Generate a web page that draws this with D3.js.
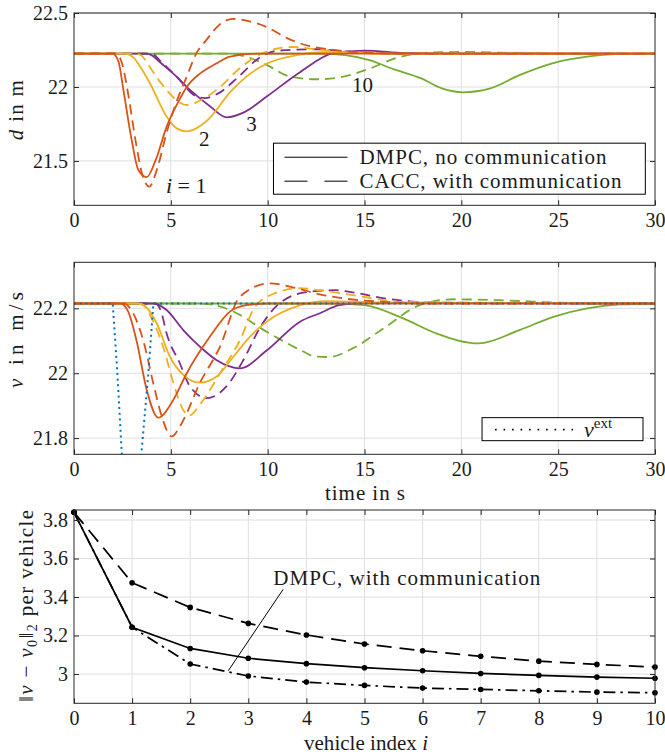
<!DOCTYPE html>
<html>
<head>
<meta charset="utf-8">
<script src="https://cdn.jsdelivr.net/npm/d3@7"></script>
<style>
  body { margin: 0; background: #fff; }
</style>
</head>
<body>
<svg id="chart" width="665" height="755"></svg>
<script>
// ---------- tick values ----------
const timeTicks = [0, 5, 10, 15, 20, 25, 30];
const dTicks = [21.5, 22, 22.5];
const vTicks = [21.8, 22, 22.2];
const normTicks = [3, 3.2, 3.4, 3.6, 3.8];
const vehicleTicks = [0, 1, 2, 3, 4, 5, 6, 7, 8, 9, 10];

// ---------- spacing d [m] over time [s] ----------
const d1Dmpc = [[0,22.225],[2.0,22.225],[2.3,22.17],[2.55,21.98],[2.98,21.64],[3.32,21.44],[3.75,21.39],[4.2,21.5],[4.78,21.73],[5.47,21.92],[5.82,22.0],[6.5,22.09],[7.37,22.16],[8.05,22.205],[9.5,22.225],[30,22.225]];
const d1Cacc = [[0,22.225],[2.2,22.225],[2.5,22.15],[2.8,21.95],[3.2,21.62],[3.5,21.42],[3.89,21.326],[4.3,21.45],[4.78,21.69],[5.21,21.87],[5.82,22.07],[6.33,22.23],[6.85,22.32],[7.5,22.42],[8.22,22.46],[9.0,22.445],[9.95,22.405],[11.0,22.33],[11.67,22.295],[13.4,22.25],[15,22.232],[17,22.225],[30,22.225]];
const d2Dmpc = [[0,22.225],[2.6,22.225],[3.06,22.2],[3.5,22.12],[3.92,22.025],[4.78,21.8],[5.3,21.72],[5.82,21.7],[6.85,21.77],[8.1,21.97],[9.0,22.08],[10.0,22.16],[11.5,22.215],[12.8,22.235],[14.5,22.233],[16.5,22.225],[30,22.225]];
const d2Cacc = [[0,22.225],[3.2,22.225],[3.5,22.21],[3.84,22.15],[4.3,22.06],[4.78,21.98],[5.3,21.91],[5.82,21.878],[6.68,21.92],[7.54,22.0],[8.5,22.12],[9.6,22.22],[10.5,22.26],[11.3,22.27],[12.5,22.255],[14,22.235],[16,22.225],[30,22.225]];
const d3Dmpc = [[0,22.225],[3.7,22.225],[4.0,22.215],[4.5,22.16],[5.13,22.09],[5.99,21.98],[7.02,21.87],[7.88,21.795],[8.8,21.83],[9.95,21.935],[11.67,22.1],[13.4,22.228],[15,22.245],[17,22.23],[19,22.225],[30,22.225]];
const d3Cacc = [[0,22.225],[4.0,22.225],[4.5,22.17],[5.3,22.07],[6.33,21.935],[6.76,21.925],[7.5,21.96],[8.5,22.07],[9.6,22.2],[10.5,22.245],[12.5,22.255],[14,22.24],[17,22.225],[30,22.225]];
const d10Dmpc = [[0,22.225],[12.5,22.225],[14,22.215],[15.3,22.18],[16.5,22.12],[17.9,22.06],[19,21.99],[20.1,21.964],[21.5,21.99],[23.0,22.08],[24.7,22.16],[26.5,22.205],[28,22.222],[30,22.225]];
const d10Cacc = [[0,22.225],[8.0,22.225],[9.0,22.2],[9.95,22.149],[11.15,22.07],[12.5,22.052],[13.5,22.06],[15.3,22.126],[16.5,22.19],[17.7,22.225],[19,22.235],[20.5,22.237],[22,22.232],[25,22.225],[30,22.225]];

// ---------- velocity v [m/s] over time [s] ----------
const vExt = [[0,22.215],[2.0,22.215],[2.24,22.0],[2.46,21.76],[2.95,21.25],[3.49,21.76],[3.84,22.0],[4.1,22.215],[30,22.215]];
const v1Dmpc = [[0,22.215],[2.4,22.215],[2.8,22.19],[3.23,22.1],[3.75,21.95],[4.35,21.863],[5.13,21.918],[5.82,22.0],[7.02,22.113],[8.05,22.19],[8.9,22.21],[10,22.215],[30,22.215]];
const v1Cacc = [[0,22.215],[2.6,22.215],[2.9,22.2],[3.58,22.1],[4.09,21.97],[4.53,21.867],[5.04,21.805],[5.56,21.846],[6.5,21.97],[7.54,22.082],[8.57,22.236],[10.1,22.277],[11.5,22.262],[12.7,22.243],[14,22.23],[16,22.22],[18,22.215],[30,22.215]];
const v2Dmpc = [[0,22.215],[3.3,22.215],[3.7,22.205],[4.27,22.154],[4.96,22.05],[5.64,21.995],[6.5,21.971],[7.37,21.99],[8.22,22.05],[9.09,22.113],[9.95,22.159],[11.7,22.21],[13,22.222],[16,22.218],[30,22.215]];
const v2Cacc = [[0,22.215],[3.3,22.215],[3.6,22.21],[3.92,22.18],[4.61,22.08],[5.13,21.97],[5.64,21.887],[5.9,21.869],[6.68,21.918],[7.54,22.0],[8.57,22.102],[9.3,22.2],[10.3,22.245],[11.67,22.262],[12.7,22.256],[15,22.235],[17,22.22],[30,22.215]];
const v3Dmpc = [[0,22.215],[4.1,22.215],[4.78,22.195],[5.64,22.133],[6.5,22.082],[7.37,22.04],[8.57,22.015],[9.95,22.07],[11.67,22.159],[12.7,22.185],[13.7,22.21],[15,22.217],[30,22.215]];
const v3Cacc = [[0,22.215],[4.2,22.215],[4.5,22.19],[4.78,22.123],[5.47,22.03],[5.99,21.959],[6.85,21.923],[7.88,21.96],[8.74,22.04],[9.6,22.14],[10.6,22.215],[12,22.25],[13.5,22.256],[14.5,22.248],[16.1,22.23],[19,22.217],[30,22.215]];
const v10Dmpc = [[0,22.215],[13.5,22.215],[15,22.21],[17.0,22.169],[18.7,22.123],[20.9,22.092],[23.0,22.133],[24.75,22.174],[26.5,22.2],[28.2,22.212],[30,22.215]];
const v10Cacc = [[0,22.215],[6.5,22.215],[8.05,22.195],[9.95,22.128],[11.67,22.072],[12.5,22.051],[13.2,22.05],[14.4,22.077],[16.1,22.143],[17.85,22.21],[19.6,22.228],[22,22.225],[26,22.216],[30,22.215]];

// ---------- ||v - v0||_2 per vehicle ----------
const normCacc = [3.84, 3.474, 3.346, 3.263, 3.203, 3.156, 3.121, 3.092, 3.067, 3.050, 3.036];
const normDmpc = [3.84, 3.243, 3.133, 3.082, 3.054, 3.033, 3.017, 3.003, 2.993, 2.984, 2.978];
const normDmpcComm = [3.84, 3.243, 3.052, 2.99, 2.958, 2.941, 2.927, 2.92, 2.913, 2.906, 2.903];

// ---------- styling ----------
const fontFamily = '"Liberation Serif", "Times New Roman", serif';
const colors = { v1: "#D95319", v2: "#EDB120", v3: "#7E2F8E", v10: "#77AC30", ext: "#0072BD" };
const axisColor = "#262626";
const gridColor = "#dfdfdf";
const dashColored = "10,6";

const svg = d3.select("#chart");

// ---------- scales ----------
const xTime = d3.scaleLinear().domain([0, 30]).range([74, 655]);
const yD = d3.scaleLinear().domain([21.2, 22.5]).range([205.3, 13]);
const yV = d3.scaleLinear().domain([21.75, 22.342]).range([454.3, 262.3]);
const xVeh = d3.scaleLinear().domain([0, 10]).range([74, 655]);
const yN = d3.scaleLinear().domain([2.848, 3.852]).range([703.3, 510]);

let clipCount = 0;

function panel(x, y, xt, yt, yfmt) {
  const [x0, x1] = x.range();
  const [yb, yt0] = y.range();
  const g = svg.append("g");
  // grid
  g.append("g").selectAll("line").data(xt.filter(d => x(d) > x0 + 1 && x(d) < x1 - 1)).join("line")
    .attr("x1", d => x(d)).attr("x2", d => x(d)).attr("y1", yt0).attr("y2", yb)
    .attr("stroke", gridColor).attr("stroke-width", 1);
  g.append("g").selectAll("line").data(yt).join("line")
    .attr("x1", x0).attr("x2", x1).attr("y1", d => y(d)).attr("y2", d => y(d))
    .attr("stroke", gridColor).attr("stroke-width", 1);
  const id = "clip" + (clipCount++);
  svg.append("clipPath").attr("id", id).append("rect")
    .attr("x", x0).attr("y", yt0).attr("width", x1 - x0).attr("height", yb - yt0);
  const plot = svg.append("g").attr("clip-path", `url(#${id})`);
  const over = svg.append("g");
  return { g, plot, over, x0, x1, yb, yt0, x, y, xt, yt, yfmt };
}

function finishAxes(p) {
  const { x, y, xt, yt, x0, x1, yb, yt0, yfmt } = p;
  const a = svg.append("g");
  a.append("g").attr("transform", `translate(0,${yb})`)
    .call(d3.axisBottom(x).tickValues(xt).tickSizeInner(-5).tickSizeOuter(0).tickPadding(8).tickFormat(d3.format("d")));
  a.append("g").attr("transform", `translate(0,${yt0})`)
    .call(d3.axisTop(x).tickValues(xt).tickSizeInner(-5).tickSizeOuter(0).tickFormat(""));
  a.append("g").attr("transform", `translate(${x0},0)`)
    .call(d3.axisLeft(y).tickValues(yt).tickSizeInner(-5).tickSizeOuter(0).tickPadding(6).tickFormat(yfmt));
  a.append("g").attr("transform", `translate(${x1},0)`)
    .call(d3.axisRight(y).tickValues(yt).tickSizeInner(-5).tickSizeOuter(0).tickFormat(""));
  a.selectAll(".domain").remove();
  a.selectAll(".tick line").attr("stroke", axisColor);
  a.selectAll(".tick text").attr("font-size", 20).attr("fill", "#1a1a1a");
  a.append("rect").attr("x", x0).attr("y", yt0).attr("width", x1 - x0).attr("height", yb - yt0)
    .attr("fill", "none").attr("stroke", axisColor).attr("stroke-width", 1);
}

function curve(p, data, color, dash, width) {
  const line = d3.line().x(d => p.x(d[0])).y(d => p.y(d[1])).curve(d3.curveMonotoneX);
  p.plot.append("path").datum(data).attr("d", line)
    .attr("fill", "none").attr("stroke", color).attr("stroke-width", width || 1.8)
    .attr("stroke-dasharray", dash || null).attr("stroke-linejoin", "round");
}

const fmtTrim = d => String(+d.toFixed(2));

// ================= panel 1: spacing =================
const p1 = panel(xTime, yD, timeTicks, dTicks, fmtTrim);
curve(p1, d10Dmpc, colors.v10);
curve(p1, d10Cacc, colors.v10, dashColored);
curve(p1, d3Dmpc, colors.v3);
curve(p1, d3Cacc, colors.v3, dashColored);
curve(p1, d2Dmpc, colors.v2);
curve(p1, d2Cacc, colors.v2, dashColored);
curve(p1, d1Dmpc, colors.v1);
curve(p1, d1Cacc, colors.v1, dashColored);

// curve labels
const lab1 = p1.over.append("text").attr("font-size", 22).attr("x", xTime(4.75)).attr("y", yD(21.28));
lab1.append("tspan").attr("font-style", "italic").text("i");
lab1.append("tspan").text(" = 1");
p1.over.append("text").attr("font-size", 21).attr("x", xTime(6.45)).attr("y", yD(21.6)).text("2");
p1.over.append("text").attr("font-size", 21).attr("x", xTime(8.9)).attr("y", yD(21.7)).text("3");
p1.over.append("text").attr("font-size", 21).attr("x", xTime(14.35)).attr("y", yD(21.965)).text("10");

// legend (line styles)
{
  const lx0 = xTime(10.3), lx1 = xTime(29.5), ly0 = yD(21.62), ly1 = yD(21.275);
  p1.over.append("rect").attr("x", lx0).attr("y", ly0).attr("width", lx1 - lx0).attr("height", ly1 - ly0)
    .attr("fill", "#fff").attr("stroke", "#000").attr("stroke-width", 1);
  const rows = [{ label: "DMPC, no communication", dash: null, w: 247, v: 21.525 },
                { label: "CACC, with communication", dash: "23,17", w: 262, v: 21.363 }];
  rows.forEach(r => {
    const yy = yD(r.v);
    p1.over.append("line").attr("x1", lx0 + 11).attr("x2", lx0 + 11 + 63).attr("y1", yy).attr("y2", yy)
      .attr("stroke", "#000").attr("stroke-width", 1).attr("stroke-dasharray", r.dash);
    p1.over.append("text").attr("font-size", 21).attr("x", lx0 + 86).attr("y", yy + 7)
      .attr("textLength", r.w).attr("lengthAdjust", "spacing").text(r.label);
  });
}
finishAxes(p1);

// y label
{
  const t = svg.append("text").attr("font-size", 21).attr("text-anchor", "middle")
    .attr("transform", `translate(23,${(yD.range()[0] + yD.range()[1]) / 2 + 1}) rotate(-90)`)
    .attr("textLength", 60).attr("lengthAdjust", "spacing");
  t.append("tspan").attr("font-style", "italic").text("d");
  t.append("tspan").text(" in m");
}

// ================= panel 2: velocity =================
const p2 = panel(xTime, yV, timeTicks, vTicks, fmtTrim);
curve(p2, v10Dmpc, colors.v10);
curve(p2, v10Cacc, colors.v10, dashColored);
curve(p2, v3Dmpc, colors.v3);
curve(p2, v3Cacc, colors.v3, dashColored);
curve(p2, v2Dmpc, colors.v2);
curve(p2, v2Cacc, colors.v2, dashColored);
curve(p2, v1Dmpc, colors.v1);
curve(p2, v1Cacc, colors.v1, dashColored);
p2.plot.append("path").datum(vExt)
  .attr("d", d3.line().x(d => xTime(d[0])).y(d => yV(d[1])))
  .attr("fill", "none").attr("stroke", colors.ext).attr("stroke-width", 2)
  .attr("stroke-dasharray", "2,3.7");

// legend (external velocity)
{
  const lx0 = xTime(21.07), lx1 = xTime(29.38), ly0 = yV(21.863), ly1 = yV(21.792);
  p2.over.append("rect").attr("x", lx0).attr("y", ly0).attr("width", lx1 - lx0).attr("height", ly1 - ly0)
    .attr("fill", "#fff").attr("stroke", "#000").attr("stroke-width", 1);
  const yy = (ly0 + ly1) / 2 + 0.5;
  p2.over.append("line").attr("x1", lx0 + 13).attr("x2", lx0 + 91).attr("y1", yy).attr("y2", yy)
    .attr("stroke", "#000").attr("stroke-width", 1.6).attr("stroke-dasharray", "1.6,6.9");
  const t = p2.over.append("text").attr("font-size", 22).attr("x", lx0 + 102).attr("y", yy + 7);
  t.append("tspan").attr("font-style", "italic").text("v");
  t.append("tspan").attr("font-size", 15).attr("dy", -9).text("ext");
}
finishAxes(p2);

svg.append("text").attr("font-size", 21).attr("text-anchor", "middle")
  .attr("x", 365).attr("y", 500).attr("textLength", 80).attr("lengthAdjust", "spacing").text("time in s");
{
  const t = svg.append("text").attr("font-size", 21).attr("text-anchor", "middle")
    .attr("transform", `translate(23,340) rotate(-90)`)
    .attr("textLength", 96).attr("lengthAdjust", "spacing");
  t.append("tspan").attr("font-style", "italic").text("v");
  t.append("tspan").text(" in m/s");
}

// ================= panel 3: norm per vehicle =================
const p3 = panel(xVeh, yN, vehicleTicks, normTicks, fmtTrim);
const normSeries = [
  { data: normCacc, dash: "15,8" },
  { data: normDmpc, dash: null },
  { data: normDmpcComm, dash: "12,5,2.5,5" }
];
normSeries.forEach(s => {
  const pts = s.data.map((v, i) => [i, v]);
  p3.plot.append("path").datum(pts)
    .attr("d", d3.line().x(d => xVeh(d[0])).y(d => yN(d[1])))
    .attr("fill", "none").attr("stroke", "#000").attr("stroke-width", 1.7)
    .attr("stroke-dasharray", s.dash);
  p3.over.append("g").selectAll("circle").data(pts).join("circle")
    .attr("cx", d => xVeh(d[0])).attr("cy", d => yN(d[1])).attr("r", 2.8).attr("fill", "#000");
});

// annotation
p3.over.append("line")
  .attr("x1", xVeh(2.655)).attr("y1", yN(3.017)).attr("x2", xVeh(3.6)).attr("y2", yN(3.44))
  .attr("stroke", "#000").attr("stroke-width", 1);
p3.over.append("text").attr("font-size", 21).attr("x", xVeh(3.43)).attr("y", yN(3.462))
  .attr("textLength", 267).attr("lengthAdjust", "spacing").text("DMPC, with communication");
finishAxes(p3);

{
  const t = svg.append("text").attr("font-size", 21).attr("text-anchor", "middle")
    .attr("x", 366).attr("y", 750).attr("textLength", 124).attr("lengthAdjust", "spacing");
  t.append("tspan").text("vehicle index ");
  t.append("tspan").attr("font-style", "italic").text("i");
}
{
  const t = svg.append("text").attr("font-size", 21).attr("text-anchor", "middle")
    .attr("transform", `translate(33,606) rotate(-90)`)
    .attr("textLength", 192).attr("lengthAdjust", "spacing");
  t.append("tspan").text("\u2016");
  t.append("tspan").attr("font-style", "italic").text("v");
  t.append("tspan").text(" \u2212 ");
  t.append("tspan").attr("font-style", "italic").text("v");
  t.append("tspan").attr("font-size", 14).attr("dy", 4).text("0");
  t.append("tspan").attr("dy", -4).text("\u2016");
  t.append("tspan").attr("font-size", 14).attr("dy", 4).text("2");
  t.append("tspan").attr("dy", -4).text(" per vehicle");
}

// serif type for every label, tick and legend entry
svg.selectAll("text").style("font-family", fontFamily).style("fill", "#1a1a1a");
</script>
</body>
</html>
